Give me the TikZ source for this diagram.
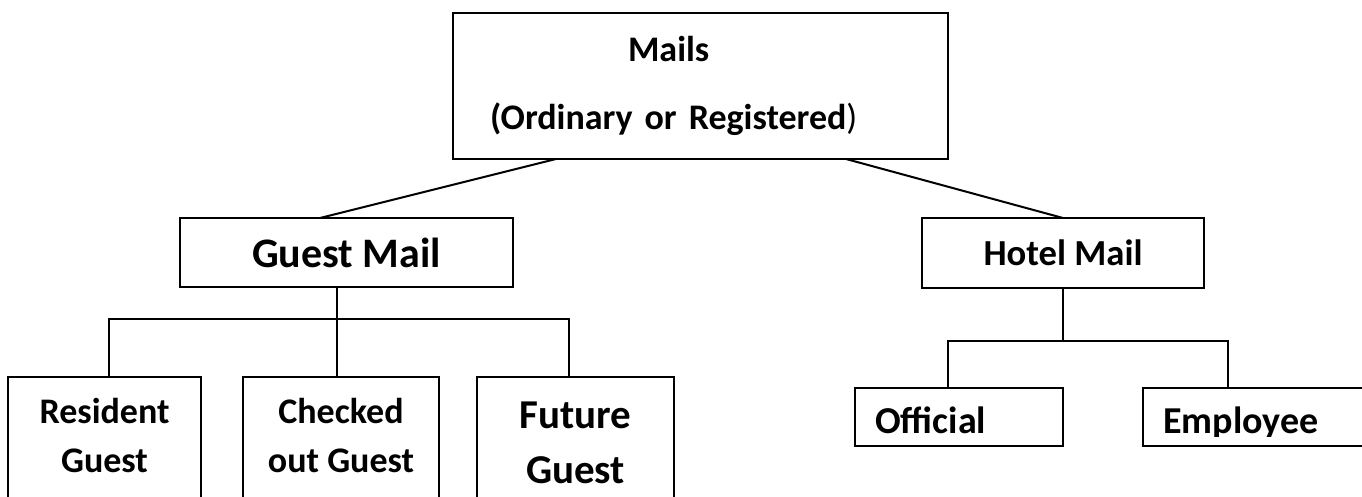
\documentclass[tikz,border=0pt]{standalone}
\usepackage{fontspec}
\setmainfont{Carlito}
\usetikzlibrary{calc}
\newcommand{\pix}{*0.75pt}

\begin{document}
\begin{tikzpicture}[x=0.75pt, y=-0.75pt,
  box/.style={draw, line width=1.5pt, inner sep=0pt, outer sep=0pt, anchor=north west},
  link/.style={line width=1.5pt},
  kid/.style={box, minimum height=140\pix, align=center,
    font=\fontsize{27pt}{36.75pt}\selectfont\bfseries, text depth=18pt},
  leaf/.style={box, minimum height=58\pix},
  leaftxt/.style={anchor=base west, inner sep=0pt,
    font=\fontsize{28.5pt}{34pt}\selectfont\bfseries}]
\clip (0,0) rectangle (1362,496);

% top box
\node[box, text width=371.25pt, minimum height=146\pix, align=left,
  font=\fontsize{27pt}{51pt}\selectfont\bfseries] (mails) at (453,13)
  {\hspace*{131.25pt}Mails\\\hspace*{27.75pt}(Ordinary or Registered\textmd{)}};

% second level
\node[box, minimum width=333\pix, minimum height=69\pix,
  font=\fontsize{31.5pt}{36pt}\selectfont\bfseries] (guest) at (180,218) {Guest Mail};
\node[box, minimum width=282\pix, minimum height=70\pix,
  font=\fontsize{27.5pt}{33pt}\selectfont\bfseries] (hotel) at (922,218) {Hotel Mail};

% guest mail kinds
\node[kid, minimum width=193\pix] (resident) at (8,377) {Resident\\Guest};
\node[kid, minimum width=196\pix] (checked) at (243,377) {Checked\\out Guest};
\node[kid, minimum width=197\pix, font=\fontsize{30.75pt}{41.25pt}\selectfont\bfseries,
  text depth=6.75pt] (future) at (477,377) {Future\\Guest};

% hotel mail kinds
\node[leaf, minimum width=208\pix] (official) at (855,388) {};
\node[leaf, minimum width=240\pix] (employee) at (1143,388) {};
\begin{scope}
\clip (850,380) rectangle (1362,436);
\node[leaftxt] (officialtxt) at (875,433) {Official};
\node[leaftxt] (employeetxt) at (1163,433) {Employee};
\end{scope}

% connectors
\draw[link] ($(mails.south)+(-144.5,0)$) -- ($(guest.north)+(-26.5,0)$);
\draw[link] ($(mails.south)+(145.5,0)$) -- (hotel.north);

\coordinate (gfork) at (337,319);
\draw[link] (gfork |- guest.south) -- (gfork);
\draw[link] ($(resident.north west)+(101,0)$) |- (gfork) -| ($(future.north west)+(92,0)$);
\draw[link] (gfork) -- (gfork |- checked.north);

\coordinate (hfork) at (1063,341);
\draw[link] (hotel.south) -- (hfork);
\draw[link] ($(official.north west)+(93,0)$) |- (hfork) -| ($(employee.north west)+(85,0)$);
\end{tikzpicture}
\end{document}
